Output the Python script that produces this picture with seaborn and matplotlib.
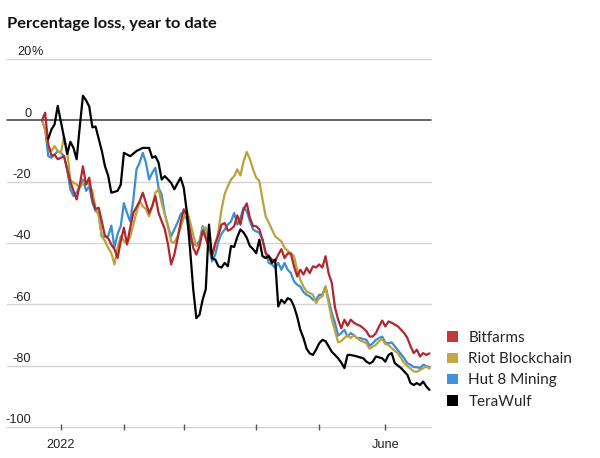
"""Crypto miners: percentage loss, year to date."""

import matplotlib

matplotlib.use("Agg")
import matplotlib.pyplot as plt
import pandas as pd
import seaborn as sns
from matplotlib.patches import Patch
from matplotlib.transforms import blended_transform_factory, offset_copy

# x is trading day, 0 = first session of 2022
X_TICK_DAYS = [0, 20, 39, 62, 82, 103]
X_TICK_LABELS = ["2022", "", "", "", "", "June"]
Y_TICKS = [20, 0, -20, -40, -60, -80, -100]
Y_LABELS = ["20%", "0", "-20", "-40", "-60", "-80", "-100"]

COMPANIES = ["Bitfarms", "Riot Blockchain", "Hut 8 Mining", "TeraWulf"]

bf_day = [-6, -5, -4, -3, -2, -1, 0, 1, 2, 3, 4, 5, 6, 7, 8, 9, 10, 11, 12, 13, 14, 15, 16, 17, 18, 19, 20, 21,
          22, 23, 25, 26, 27, 28, 29, 30, 31, 32, 33, 34, 35, 36, 37, 38, 39, 40, 41, 42, 43, 44, 45, 46, 47, 48,
          49, 50, 51, 52, 53, 54, 55, 56, 57, 58, 59, 60, 61, 62, 63, 64, 65, 66, 67, 68, 69, 70, 71, 72, 73, 74,
          75, 76, 77, 78, 79, 80, 81, 82, 83, 84, 85, 86, 87, 88, 89, 90, 91, 92, 93, 94, 95, 96, 97, 98, 99, 100,
          101, 102, 103, 104, 105, 107, 109, 110, 111, 112, 113, 114, 115, 116, 117]
bf_pct = [0, 2.5, -8, -11.5, -11.2, -12.7, -12.2, -11.7, -16, -20, -23, -25.8, -21, -15, -21, -18.7, -25.8, -29,
          -28.5, -33, -37.8, -38.4, -40.5, -42, -44.9, -39.4, -35, -40.5, -35, -30.2,
          -26.4, -23.6, -26.9, -30.2, -28, -24.7, -30.2, -32.9, -35.6, -40.5, -47, -43.8, -38.9, -33.4, -29, -30.7,
          -36, -41.6, -43.8, -41, -36, -38.5, -41.6, -44, -40, -37.5, -34, -33.5, -36, -35.5, -34.5, -31, -34, -29,
          -27.1, -31.8, -34.5, -34.5, -35.6, -38.9, -43.2, -44.3, -45.4, -46, -43.8, -42, -44.9, -43.4, -43.4,
          -47.6, -50.9, -48.7, -50.3, -48.1, -49.8, -47.6, -48, -47, -48, -44.3, -50, -53, -61, -65, -67.8, -65,
          -67, -65, -66, -66.6, -67, -67.8, -68.8, -70.5, -70.5, -69.4, -67.2, -65.3, -67.2, -65.6, -66,
          -67.2, -69.4, -71, -73.7, -75.9, -74.8, -77, -75.9, -76.5, -76]

rb_day = [-6, -5, -4, -3, -2, -1, 0, 1, 2, 3, 4, 5, 6, 7, 8, 9, 10, 11, 12, 13, 14, 15, 16, 17, 18, 19, 20, 21,
          22, 23, 24, 25, 26, 27, 28, 29, 30, 31, 32, 33, 34, 35, 36, 37, 38, 39, 40, 41, 42, 43, 44, 45, 46, 47,
          48, 49, 50, 51, 52, 53, 54, 55, 56, 57, 58, 59, 60, 61, 62, 63, 64, 65, 66, 67, 68, 70, 71, 73, 74, 75,
          76, 77, 78, 79, 80, 81, 82, 83, 84, 85, 86, 87, 88, 89, 90, 91, 92, 93, 94, 95, 96, 97, 98, 99, 100,
          101, 102, 103, 104, 105, 107, 109, 111, 112, 113, 114, 116, 117]
rb_pct = [0, -3, -8.4, -10, -8.4, -10, -10.6, -5.5, -10, -19.3, -20.4, -20.9, -22, -20.4, -20, -21, -23, -28.5,
          -31.3, -37.8, -39.4, -41.6, -43.2, -47, -41.6, -37.8, -39.4, -40, -38, -34, -30, -26.4, -28, -29, -31.3,
          -28, -23.6, -22.5, -27, -30.7, -34.5, -39.5, -40, -37.8, -35, -31.8, -29.5, -33, -37.3, -41, -40.5, -35,
          -35, -40.5, -44, -41, -36, -29, -24, -21.5, -19.3, -18.2, -16, -18, -13.3, -10.3, -12.7, -16, -18.7,
          -19.8, -25.8, -31.3, -33.4, -35.6, -37.8, -39.5, -41.6, -43.5, -44.3, -48.7, -52, -54.2, -55.8, -56.3,
          -56.9, -59.6, -58, -57.4, -54.2, -59.6, -65, -68.5, -72.4, -72, -71, -70, -71, -70, -71, -71.8, -72.2,
          -72.7, -74.5, -73.8, -73.2, -72, -71.3, -73, -73.2, -74.3, -76, -79.2, -81, -81.9, -82, -81.4, -80.3,
          -81]

h8_day = [-6, -5, -4, -3, -2, -1, 0, 1, 2, 3, 4, 5, 6, 7, 8, 9, 10, 11, 12, 13, 14, 15, 16, 17, 18, 19, 20, 21,
          22, 23, 24, 25, 26, 27, 28, 29, 30, 31, 32, 33, 34, 35, 36, 37, 38, 39, 40, 41, 42, 43, 44, 45, 46, 47,
          48, 49, 50, 51, 52, 53, 54, 55, 56, 57, 58, 59, 60, 61, 62, 63, 64, 65, 66, 67, 68, 69, 70, 71, 72, 73,
          74, 75, 76, 77, 78, 79, 80, 81, 82, 83, 84, 85, 86, 87, 88, 89, 90, 91, 92, 93, 94, 95, 96, 97, 98, 99,
          100, 101, 102, 103, 104, 105, 106, 107, 109, 110, 111, 112, 113, 114, 115, 117]
h8_pct = [0, -3, -11.7, -12.2, -11.2, -10, -10.6, -11.7, -16, -22.5, -24.7, -23.5, -21.5, -19.3, -23, -21.5, -26.9,
          -29.6, -30.2, -38, -37.8, -37.8, -34.3, -41.5, -37, -34.5, -27, -30.2, -33, -25.8, -16, -13.8, -10.6,
          -13.8, -19.3, -17.1, -15.5, -22, -24.2, -30.7, -34.5, -37.8, -35.6, -33.4, -30.7, -29.6, -32.4, -37.8,
          -40.5, -40.5, -39.5, -34.5, -37.8, -41, -46, -43.8, -39.5, -37, -35.6, -34, -33, -30.2, -34, -31.8,
          -28.5, -29.6, -32.9, -35.6, -36.2, -36.7, -38.9, -43.2, -46.5, -47, -48.1, -46.5, -48.7, -46.5, -48.7,
          -49.8, -52.5, -53.6, -54.2, -56, -56.9, -57.4, -58.5, -58.5, -56.9, -56.9, -54.2, -58.5, -62.9, -66,
          -70.2, -69.4, -68.3, -70.5, -69.4, -70, -71, -71, -71.3, -71.6, -73.5, -72.7, -71.6, -71, -70.5, -72.5,
          -72.7, -72.4, -73.7, -75, -77.6, -79.2, -79.7, -80.5, -80.5, -80.8, -79.7, -80.5]

tw_day = [-4, -3, -2, -1, 1, 2, 3, 4, 5, 6, 7, 8, 9, 10, 11, 13, 14, 15, 16, 18, 19, 20, 22, 24, 26, 28, 29, 30,
          31, 32, 33, 35, 36, 38, 39, 40, 41, 42, 43, 44, 45, 46, 47, 48, 49, 50, 51, 52, 53, 54, 55, 56, 57, 58,
          59, 60, 61, 62, 63, 64, 65, 66, 67, 68, 69, 70, 71, 72, 73, 74, 75, 76, 77, 78, 79, 80, 81, 82, 83, 84,
          85, 86, 87, 88, 89, 90, 91, 92, 94, 96, 97, 98, 99, 100, 102, 103, 104, 105, 106, 108, 109, 110, 111,
          112, 113, 114, 115, 116, 117]
tw_pct = [-6, -3, -1.3, 4.7, -5.6, -11, -7, -9, -12.7, -2, 8, 6.5, 4.5, -2.3, -2, -10, -15, -18, -23.6, -23, -21,
          -10.6, -11.7, -10, -9, -9, -12.2, -11.7, -13.8, -19.3, -18.2, -20.4, -22.5, -18.7, -22, -30, -42, -55,
          -64.5, -63.4, -58.5, -55, -34, -45, -45.4, -47.6, -48, -46.5, -47.6, -41, -41.3, -38, -35.6, -36.6,
          -38.3, -41, -42, -43.3, -38.9, -44.3, -44.9, -44.3, -46.5, -45.4, -60.7, -58.5, -59.6, -58, -58.5, -60.7,
          -64, -68.3, -71, -74.5, -76, -76.5, -74.8, -72.7, -71.6, -72, -73.7, -75.5, -76.5, -77.6, -79, -80.8,
          -76.5, -76.5, -77, -77.6, -78.7, -79.3, -78.7, -77, -77.6, -78.7, -76.5, -75.9, -79.2, -80.8, -81.9,
          -83, -85.7, -86.3, -85.7, -86.3, -85.2, -86.8, -87.9]

LINE_COLORS = {"Bitfarms": "#b2262f", "Riot Blockchain": "#bba23c", "Hut 8 Mining": "#3a8ed1", "TeraWulf": "#000000"}
KEY_COLORS = {"Bitfarms": "#c0383d", "Riot Blockchain": "#c4a744", "Hut 8 Mining": "#3f93d6", "TeraWulf": "#000000"}
TICK_FONT = ["Liberation Sans", "DejaVu Sans"]

series = {
    "Bitfarms": (bf_day, bf_pct),
    "Riot Blockchain": (rb_day, rb_pct),
    "Hut 8 Mining": (h8_day, h8_pct),
    "TeraWulf": (tw_day, tw_pct),
}
df = pd.concat(
    [pd.DataFrame({"day": d, "pct": p, "company": name}) for name, (d, p) in series.items()],
    ignore_index=True,
)

sns.set_theme(style="white")
plt.rcParams["font.family"] = ["Lato", "DejaVu Sans"]

fig = plt.figure(figsize=(6, 4.58), dpi=100)
ax = fig.add_axes([0.0117, 0.0677, 0.7067, 0.8035])

for v in Y_TICKS:
    if v == 0:
        ax.axhline(v, color="#4a4a4a", lw=1.2, zorder=1, clip_on=False)
    else:
        ax.axhline(v, color="#d4d4d4", lw=1.0, zorder=0, clip_on=False)

# draw order: black on top
sns.lineplot(
    data=df, x="day", y="pct", hue="company",
    hue_order=["Hut 8 Mining", "Riot Blockchain", "Bitfarms", "TeraWulf"],
    palette=LINE_COLORS, estimator=None, linewidth=1.6, legend=False, ax=ax, zorder=3,
)

ax.set_xlim(-17.1, 117.5)
ax.set_ylim(-100, 20)
ax.set_yticks([])
ax.set_xticks(X_TICK_DAYS)
ax.set_xticklabels(X_TICK_LABELS, family=TICK_FONT, fontsize=9.2, color="#222222")
ax.tick_params(axis="x", direction="inout", length=5, width=1, color="#555555", pad=6, bottom=True)
ax.set_xlabel("")
ax.set_ylabel("")
for s in ax.spines.values():
    s.set_visible(False)

trans = offset_copy(blended_transform_factory(ax.transAxes, ax.transData), fig=fig, y=2.6, units="points")
for v, lab in zip(Y_TICKS, Y_LABELS):
    num = lab.rstrip("%")
    ax.text(0.057, v, num, transform=trans, ha="right", va="baseline",
            family=TICK_FONT, fontsize=9.2, color="#222222")
    if lab.endswith("%"):
        ax.text(0.057, v, "%", transform=trans, ha="left", va="baseline",
                family=TICK_FONT, fontsize=9.2, color="#222222")

fig.text(0.0117, 0.938, "Percentage loss, year to date", fontsize=11.8, fontweight="bold",
         ha="left", va="baseline", color="#111111")

handles = [Patch(facecolor=KEY_COLORS[n], edgecolor="none", label=n) for n in COMPANIES]
fig.legend(
    handles=handles, loc="upper left", bbox_to_anchor=(0.745, 0.277), frameon=False,
    fontsize=11, handlelength=0.7, handleheight=0.7, handletextpad=0.7,
    labelspacing=0.47, borderpad=0, borderaxespad=0,
)

fig.savefig("out.png", dpi=100)
plt.close(fig)
